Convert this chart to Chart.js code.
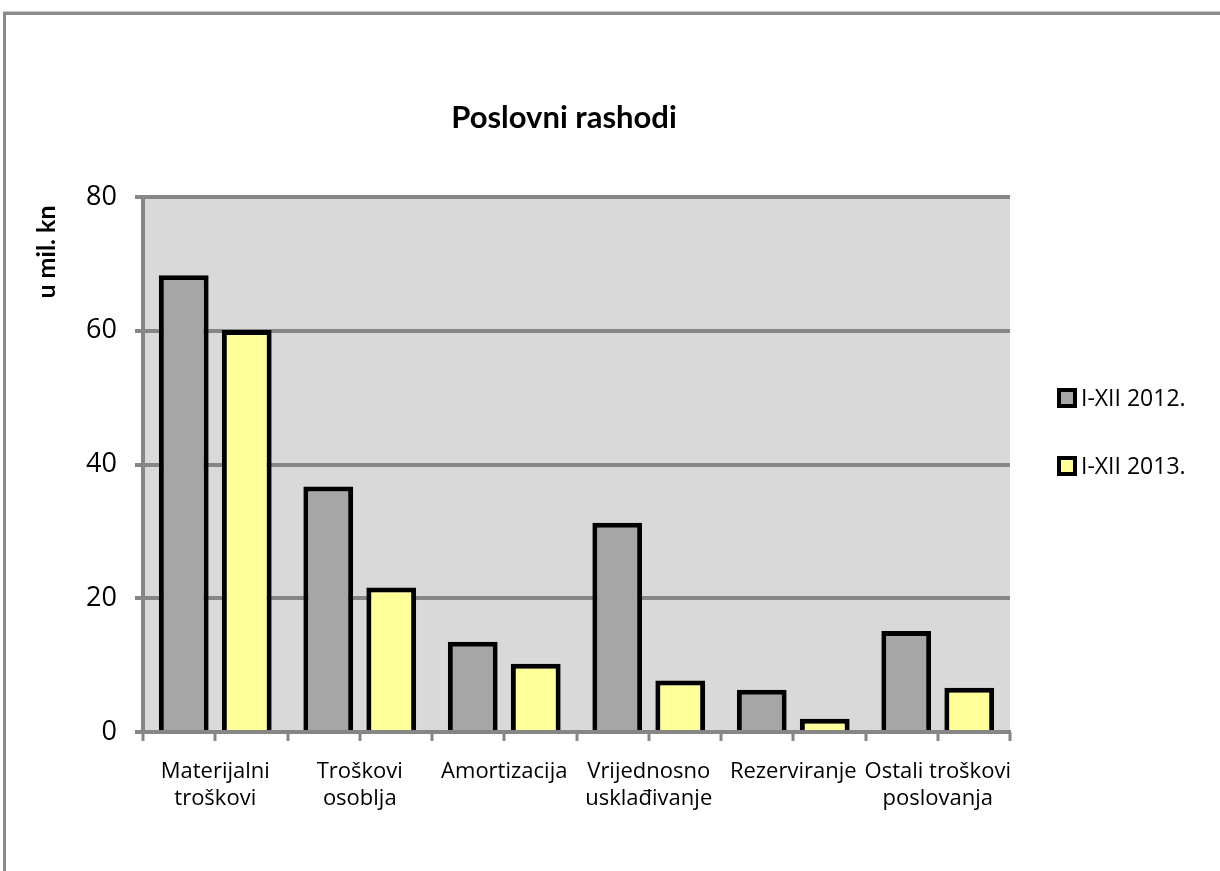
<!DOCTYPE html>
<html>
<head>
<meta charset="utf-8">
<script src="https://cdn.jsdelivr.net/npm/chart.js@4.4.1/dist/chart.umd.min.js"></script>
<style>
  html, body { margin: 0; padding: 0; background: #fff; }
  #wrap { position: relative; width: 1220px; height: 871px; }
</style>
</head>
<body>
<div id="wrap"><canvas id="rashodiChart" width="1220" height="871"></canvas></div>
<script>
'use strict';
// podaci (u mil. kn)
const kategorije = [
  ['Materijalni', 'troškovi'],
  ['Troškovi', 'osoblja'],
  'Amortizacija',
  ['Vrijednosno', 'usklađivanje'],
  'Rezerviranje',
  ['Ostali troškovi', 'poslovanja']
];
const god2012 = [68.3, 36.7, 13.5, 31.3, 6.3, 15.1];
const god2013 = [60.1, 21.6, 10.2, 7.7, 2.0, 6.6];
const oznakeSerija = ['I-XII 2012.', 'I-XII 2013.'];
const yTicks = [0, 20, 40, 60, 80];
const naslov = 'Poslovni rashodi';
const naslovY = 'u mil. kn';

const SIVA = '#868686';

//crta pozadinu, okvir, naslove i legendu
const ukrasi = {
  id: 'ukrasi',
  beforeDraw(chart) {
    const { ctx, chartArea: a } = chart;
    ctx.save();
    ctx.fillStyle = '#d9d9d9';
    ctx.fillRect(a.left, a.top, a.right - a.left, a.bottom - a.top);
    // okvir
    ctx.fillStyle = '#c8c8c8';
    ctx.fillRect(3, 11, 1217, 1);
    ctx.fillStyle = '#8a8a8a';
    ctx.fillRect(3, 12, 1217, 3);
    ctx.fillRect(3, 12, 3, 859);
    ctx.restore();
  },
  afterDraw(chart) {
    const { ctx, chartArea: a } = chart;
    ctx.save();
    // oznake na x osi (i izmedju stupaca)
    ctx.strokeStyle = SIVA;
    ctx.lineWidth = 3;
    const n = kategorije.length * 2;
    for (let i = 0; i <= n; i++) {
      const x = Math.round(a.left + i * (a.right - a.left) / n);
      ctx.beginPath();
      ctx.moveTo(x, a.bottom);
      ctx.lineTo(x, a.bottom + 9);
      ctx.stroke();
    }

    ctx.fillStyle = '#000';
    ctx.textAlign = 'center';
    ctx.textBaseline = 'middle';
    ctx.font = 'bold 31px Lato';
    ctx.fillText(naslov, 564, 118);

    ctx.save();
    ctx.translate(47, 252);
    ctx.rotate(-Math.PI / 2);
    ctx.font = 'bold 25px Lato';
    ctx.fillText(naslovY, 0, 0);
    ctx.restore();

    // legenda
    chart.data.datasets.forEach((ds, i) => {
      const y = 398 + i * 68;
      ctx.fillStyle = '#000';
      ctx.fillRect(1057, y - 10, 20, 20);
      ctx.fillStyle = ds.backgroundColor;
      ctx.fillRect(1061, y - 6, 12, 12);
      ctx.fillStyle = '#000';
      ctx.textAlign = 'left';
      ctx.font = '23px "Open Sans"';
      ctx.fillText(ds.label, 1081, y + 1);
    });
    ctx.restore();
  }
};

const ctx = document.getElementById('rashodiChart').getContext('2d');

const rashodiChart = new Chart(ctx, {
  type: 'bar',
  data: {
    labels: kategorije,
    datasets: [
      {
        label: oznakeSerija[0],
        data: god2012,
        backgroundColor: '#a6a6a6',
        borderColor: '#000',
        borderWidth: 5
      },
      {
        label: oznakeSerija[1],
        data: god2013,
        backgroundColor: '#ffff99',
        borderColor: '#000',
        borderWidth: 5
      }
    ]
  },
  options: {
    responsive: false,
    maintainAspectRatio: false,
    animation: false,
    devicePixelRatio: 1,
    categoryPercentage: 0.872,
    barPercentage: 0.79,
    layout: { padding: { left: 83, right: 210, top: 197, bottom: 59 } },
    plugins: {
      legend: { display: false },
      title: { display: false },
      tooltip: { enabled: false }
    },
    scales: {
      x: {
        afterFit: s => { s.height = 80; },
        grid: { drawOnChartArea: false, drawTicks: false },
        border: { display: true, color: SIVA, width: 4 },
        ticks: {
          color: '#000',
          padding: 26,
          maxRotation: 0,
          autoSkip: false,
          font: { family: '"Open Sans"', size: 22, lineHeight: 1.22 }
        }
      },
      y: {
        min: 0,
        max: 80,
        afterFit: s => { s.width = 60; },
        afterBuildTicks: s => { s.ticks = yTicks.map(v => ({ value: v })); },
        grid: { color: SIVA, lineWidth: 4, tickLength: 8, tickColor: SIVA },
        border: { display: true, color: SIVA, width: 4 },
        ticks: {
          color: '#000',
          padding: 18,
          font: { family: '"Open Sans"', size: 27 }
        }
      }
    }
  },
  plugins: [ukrasi]
});
</script>
</body>
</html>
